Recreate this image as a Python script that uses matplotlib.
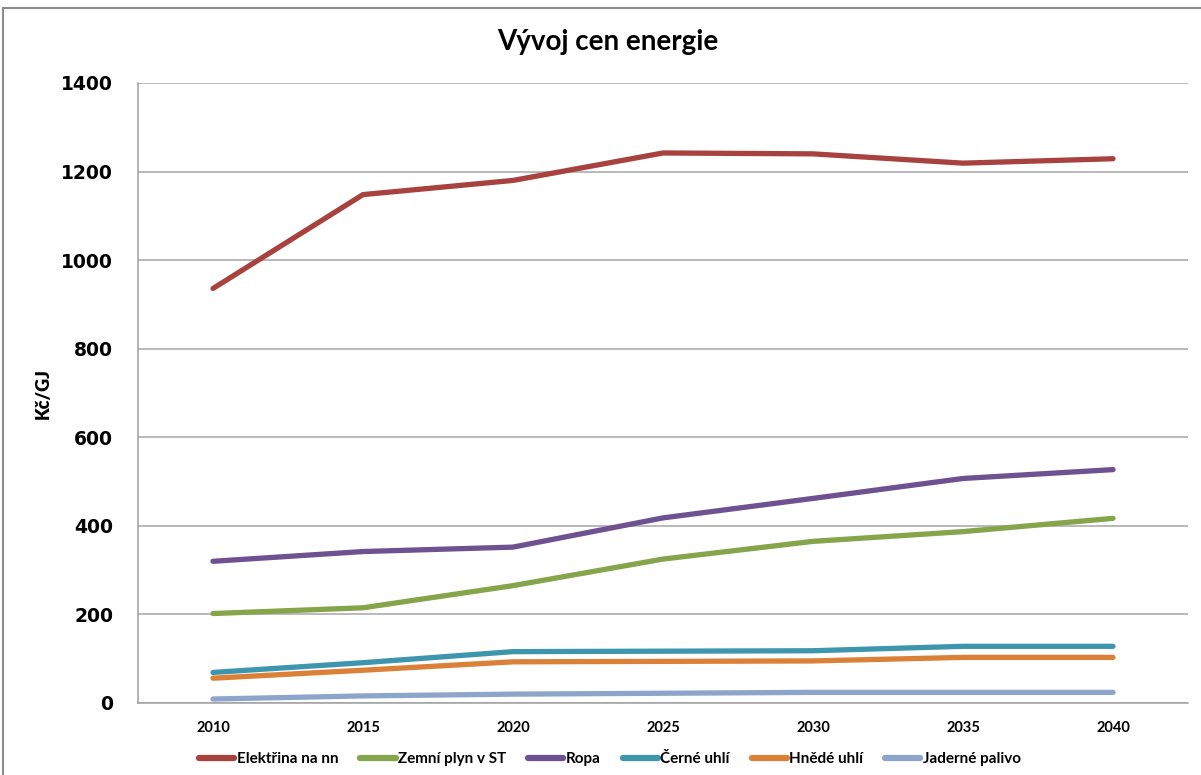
import matplotlib.pyplot as plt
from matplotlib.lines import Line2D

# Data (Kč/GJ)
roky = ['2010', '2015', '2020', '2025', '2030', '2035', '2040']
elektrina = [936, 1148, 1180, 1242, 1240, 1219, 1229]
zemni_plyn = [202, 215, 265, 325, 365, 387, 417]
ropa = [320, 342, 352, 418, 462, 507, 527]
cerne_uhli = [69, 91, 116, 117, 118, 128, 128]
hnede_uhli = [56, 74, 93, 94, 95, 103, 103]
jaderne_palivo = [9, 16, 20, 22, 24, 24, 24]

serie = [
    ('Elektřina na nn', elektrina, '#A8423F'),
    ('Zemní plyn v ST', zemni_plyn, '#86A44A'),
    ('Ropa', ropa, '#6F5091'),
    ('Černé uhlí', cerne_uhli, '#3D96AE'),
    ('Hnědé uhlí', hnede_uhli, '#DB8037'),
    ('Jaderné palivo', jaderne_palivo, '#8EA5CB'),
]

fig = plt.figure(figsize=(12.01, 7.75), dpi=100)
ax = fig.add_axes([138 / 1201, 72 / 775, 1050 / 1201, 620 / 775])

x = range(len(roky))
for nazev, hodnoty, barva in serie:
    ax.plot(x, hodnoty, color=barva, lw=3.8, solid_capstyle='round',
            solid_joinstyle='round', label=nazev)

ax.set_xlim(-0.5, len(roky) - 0.5)
ax.set_ylim(0, 1400)
ax.set_yticks(range(0, 1401, 200))
ax.set_xticks(list(x))
ax.set_xticklabels(roky, fontfamily='Lato', fontweight='bold', fontsize=10.5)
for t in ax.get_yticklabels():
    t.set_fontfamily('DejaVu Sans')
    t.set_fontweight('bold')
    t.set_fontsize(13.5)
ax.tick_params(axis='both', length=0)
ax.tick_params(axis='y', pad=18)
ax.tick_params(axis='x', pad=13)

ax.grid(axis='y', color='#A6A6A6', lw=1.1)
ax.set_axisbelow(True)
for s in ['top', 'right']:
    ax.spines[s].set_visible(False)
for s in ['left', 'bottom']:
    ax.spines[s].set_color('#A0A0A0')
    ax.spines[s].set_linewidth(1.1)

fig.text(43 / 1201, 1 - 394 / 775, 'Kč/GJ', rotation=90, ha='center', va='center',
         fontfamily='Lato', fontweight='heavy', fontsize=13)

fig.text(0.506, 1 - 42 / 775, 'Vývoj cen energie', ha='center', va='center',
         fontfamily='Lato', fontweight='bold', fontsize=20)

handles = [Line2D([], [], color=b, lw=4.5, solid_capstyle='round') for _, _, b in serie]
leg = fig.legend(handles, [s[0] for s in serie], loc='center', ncol=6,
                 bbox_to_anchor=(610 / 1201, 1 - 759 / 775), frameon=False,
                 handlelength=2.3, handletextpad=0.15, columnspacing=1.45,
                 borderpad=0, borderaxespad=0,
                 prop={'family': 'Lato', 'weight': 'bold', 'size': 11})

# outer chart border (left and top only visible)
fig.add_artist(Line2D([3 / 1201, 3 / 1201], [0, 1 - 8 / 775], color='#8C8C8C', lw=1.5))
fig.add_artist(Line2D([3 / 1201, 1], [1 - 8 / 775, 1 - 8 / 775], color='#8C8C8C', lw=1.5))

fig.savefig('out.png', dpi=100)
